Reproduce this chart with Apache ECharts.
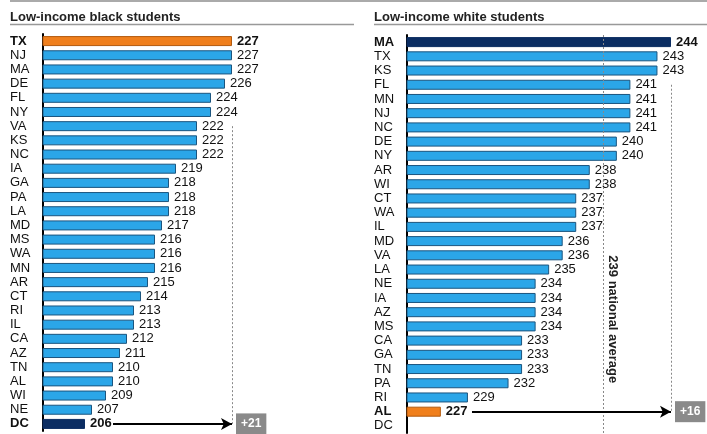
<!DOCTYPE html>
<html>
<head>
<meta charset="utf-8">
<script src="https://cdn.jsdelivr.net/npm/echarts@6/dist/echarts.min.js"></script>
<style>html,body{margin:0;padding:0;background:#fff}#c{width:707px;height:434px}</style>
</head>
<body>
<div id="c"></div>
<script>
const leftTitle = 'Low-income black students';
const rightTitle = 'Low-income white students';
const leftStates = ['TX','NJ','MA','DE','FL','NY','VA','KS','NC','IA','GA','PA','LA','MD','MS','WA','MN','AR','CT','RI','IL','CA','AZ','TN','AL','WI','NE','DC'];
const leftValues = [227,227,227,226,224,224,222,222,222,219,218,218,218,217,216,216,216,215,214,213,213,212,211,210,210,209,207,206];
const rightStates = ['MA','TX','KS','FL','MN','NJ','NC','DE','NY','AR','WI','CT','WA','IL','MD','VA','LA','NE','IA','AZ','MS','CA','GA','TN','PA','RI','AL','DC'];
const rightValues = [244,243,243,241,241,241,241,240,240,238,238,237,237,237,236,236,235,234,234,234,234,233,233,233,232,229,227,null];
const leftTop = 'TX', leftBottom = 'DC', leftGapText = '+21';
const rightTop = 'MA', rightBottom = 'AL', rightGapText = '+16';
const nationalAvg = 239;
const avgText = '239 national average';

const FONT = "'Liberation Sans', Arial, sans-serif";
const BLUE = '#2ba6e8', BLUE_B = '#1b557f', ORANGE = '#f07f1c', NAVY = '#0b2d62';

function barData(states, values, orangeState, navyState) {
  return values.map((v, i) => {
    const s = states[i];
    let color = BLUE, border = BLUE_B, bold = false;
    if (s === orangeState) { color = ORANGE; border = '#b35a0e'; bold = true; }
    if (s === navyState) { color = NAVY; border = NAVY; bold = true; }
    return {
      value: v,
      itemStyle: { color: color, borderColor: border, borderWidth: 1 },
      label: { fontWeight: bold ? 'bold' : 'normal' }
    };
  });
}

const boldSetL = [leftTop, leftBottom];
const boldSetR = [rightTop, rightBottom];

function yAxis(states, gridIndex, boldSet) {
  return {
    type: 'category', data: states, inverse: true, gridIndex: gridIndex,
    axisTick: { show: false },
    axisLine: { lineStyle: { color: '#000', width: 2 } },
    axisLabel: {
      interval: 0, align: 'left', margin: 33, fontFamily: FONT, fontSize: 13, color: '#111',
      formatter: v => boldSet.indexOf(v) >= 0 ? '{b|' + v + '}' : v,
      rich: { b: { fontWeight: 'bold', fontFamily: FONT, fontSize: 13, color: '#111' } }
    }
  };
}

const dotted = { color: '#888', type: [2, 2], width: 1 };

const option = {
  animation: false,
  title: [
    { text: leftTitle, left: 10, top: 11, padding: 0, textStyle: { fontFamily: FONT, fontSize: 13, fontWeight: 'bold', color: '#222' } },
    { text: rightTitle, left: 374, top: 11, padding: 0, textStyle: { fontFamily: FONT, fontSize: 13, fontWeight: 'bold', color: '#222' } }
  ],
  graphic: [
    { type: 'rect', shape: { x: 10, y: 0, width: 697, height: 2 }, style: { fill: '#aaa' } },
    { type: 'line', shape: { x1: 10, y1: 24.5, x2: 354, y2: 24.5 }, style: { stroke: '#999', lineWidth: 1.5 } },
    { type: 'line', shape: { x1: 374, y1: 24.5, x2: 707, y2: 24.5 }, style: { stroke: '#999', lineWidth: 1.5 } }
  ],
  grid: [
    { left: 43, top: 34, width: 189, height: 397 },
    { left: 407, top: 35, width: 264, height: 398 }
  ],
  xAxis: [
    { type: 'value', gridIndex: 0, min: 200, max: 227, show: false },
    { type: 'value', gridIndex: 1, min: 224.5, max: 244, show: false }
  ],
  yAxis: [yAxis(leftStates, 0, boldSetL), yAxis(rightStates, 1, boldSetR)],
  series: [
    {
      type: 'bar', xAxisIndex: 0, yAxisIndex: 0, barWidth: 10,
      data: barData(leftStates, leftValues, leftTop, leftBottom),
      label: { show: true, position: 'right', distance: 5, fontFamily: FONT, fontSize: 13, color: '#111' },
      markLine: {
        silent: true, symbol: 'none',
        data: [
          [{ coord: [leftValues[0], 'VA'], lineStyle: dotted, label: { show: false } },
           { coord: [leftValues[0], leftBottom] }],
          [{ coord: [210, leftBottom], symbol: 'none', lineStyle: { color: '#000', width: 2, type: 'solid' },
             label: { show: true, position: 'end', formatter: leftGapText, distance: 4, backgroundColor: '#8a8a8a',
                      color: '#fff', fontWeight: 'bold', fontFamily: FONT, fontSize: 12, padding: [5, 5, 4, 5] } },
           { coord: [leftValues[0], leftBottom], symbol: 'arrow', symbolSize: [9, 11] }]
        ]
      }
    },
    {
      type: 'bar', xAxisIndex: 1, yAxisIndex: 1, barWidth: 10,
      data: barData(rightStates, rightValues, rightBottom, rightTop),
      label: { show: true, position: 'right', distance: 5, fontFamily: FONT, fontSize: 13, color: '#111' },
      markLine: {
        silent: true, symbol: 'none',
        data: [
          { xAxis: nationalAvg, lineStyle: dotted, label: { show: false } },
          [{ coord: [nationalAvg, 'IA'], lineStyle: { color: 'rgba(0,0,0,0)', width: 1, type: 'solid' },
             label: { show: true, position: 'middle', formatter: avgText, distance: 3, color: '#222',
                      fontWeight: 'bold', fontFamily: FONT, fontSize: 13 } },
           { coord: [nationalAvg, 'CA'] }],
          [{ coord: [rightValues[0], 'FL'], lineStyle: dotted, label: { show: false } },
           { coord: [rightValues[0], rightBottom] }],
          [{ coord: [229.3, rightBottom], symbol: 'none', lineStyle: { color: '#000', width: 2, type: 'solid' },
             label: { show: true, position: 'end', formatter: rightGapText, distance: 4, backgroundColor: '#8a8a8a',
                      color: '#fff', fontWeight: 'bold', fontFamily: FONT, fontSize: 12, padding: [5, 5, 4, 5] } },
           { coord: [rightValues[0], rightBottom], symbol: 'arrow', symbolSize: [9, 11] }]
        ]
      }
    }
  ]
};
const chart = echarts.init(document.getElementById('c'), null, { renderer: 'canvas' });
chart.setOption(option);
</script>
</body>
</html>
